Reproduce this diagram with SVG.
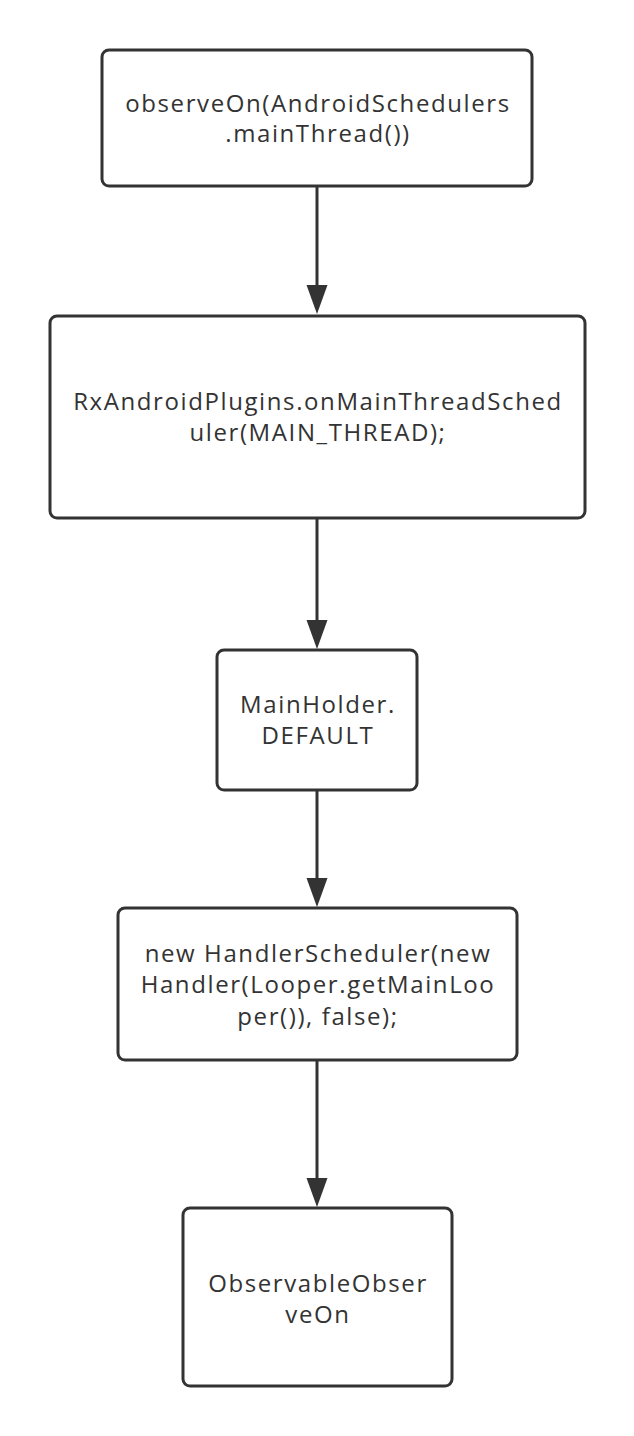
<svg xmlns="http://www.w3.org/2000/svg" width="634" height="1436" viewBox="0 0 634 1436">
<defs>
<style>
.box{fill:#fff;stroke:#333;stroke-width:3}
.t{font-family:"Open Sans","Noto Sans","Liberation Sans",sans-serif;font-size:24px;letter-spacing:1.6px;fill:#333;text-anchor:middle}
.c{stroke:#333;stroke-width:3;fill:none}
.ah{fill:#333}
</style>
</defs>
<rect width="634" height="1436" fill="#fff"/>
<g id="connectors">
<line class="c" x1="317" y1="186" x2="317" y2="285"/>
<path class="ah" d="M306.5,285 L327.5,285 L317,314 Z"/>
<line class="c" x1="317" y1="518" x2="317" y2="620"/>
<path class="ah" d="M306.5,620 L327.5,620 L317,649 Z"/>
<line class="c" x1="317" y1="790" x2="317" y2="878"/>
<path class="ah" d="M306.5,878 L327.5,878 L317,907 Z"/>
<line class="c" x1="317" y1="1060" x2="317" y2="1178"/>
<path class="ah" d="M306.5,1178 L327.5,1178 L317,1207 Z"/>
</g>
<g id="n1">
<rect class="box" x="102" y="50" width="430" height="136" rx="7"/>
<text class="t" x="318" y="112">observeOn(AndroidSchedulers</text>
<text class="t" x="318" y="142">.mainThread())</text>
</g>
<g id="n2">
<rect class="box" x="50" y="316" width="535" height="202" rx="7"/>
<text class="t" x="318" y="410">RxAndroidPlugins.onMainThreadSched</text>
<text class="t" x="318" y="441">uler(MAIN_THREAD);</text>
</g>
<g id="n3">
<rect class="box" x="217" y="650" width="200" height="140" rx="7"/>
<text class="t" x="318" y="713">MainHolder.</text>
<text class="t" x="318" y="744">DEFAULT</text>
</g>
<g id="n4">
<rect class="box" x="118" y="908" width="399" height="152" rx="7"/>
<text class="t" x="318" y="962">new HandlerScheduler(new</text>
<text class="t" x="318" y="993">Handler(Looper.getMainLoo</text>
<text class="t" x="318" y="1025">per()), false);</text>
</g>
<g id="n5">
<rect class="box" x="183" y="1208" width="269" height="178" rx="7"/>
<text class="t" x="318" y="1292">ObservableObser</text>
<text class="t" x="318" y="1323">veOn</text>
</g>
</svg>
